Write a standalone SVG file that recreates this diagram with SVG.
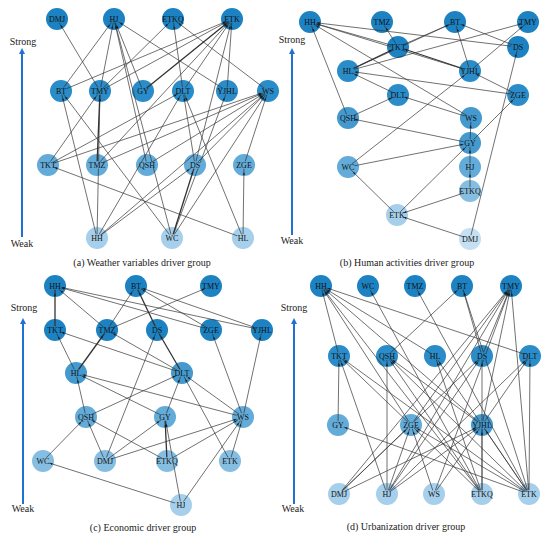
<svg xmlns="http://www.w3.org/2000/svg" width="550" height="542" viewBox="0 0 550 542">
<style>
.bg{fill:#fff}
.e{stroke:#333;stroke-width:0.7;fill:none;marker-end:url(#ah)}
.t{stroke-width:1.3}
.ax{stroke:#1f72d4;stroke-width:2;marker-end:url(#axh)}
.lab{font-family:"Liberation Serif","Times New Roman",serif;font-size:8px;fill:#111;text-anchor:middle}
.txt{font-family:"Liberation Serif","Times New Roman",serif;font-size:10px;fill:#222;text-anchor:middle}
.c1{fill:#1c82c2}.c2{fill:#2a8cc8}.c3{fill:#4499cf}.c4{fill:#63abd8}.c5{fill:#86bee2}.c6{fill:#a6cfeb}.c7{fill:#c4e0f2}
.m{fill:#000}
</style>
<defs>
<marker id="ah" markerUnits="userSpaceOnUse" markerWidth="4" markerHeight="4" refX="9.7" refY="1.1" orient="auto" overflow="visible"><path d="M0,0 L2.6,1.1 L0,2.2 z" fill="#1a1a1a"/></marker>
<marker id="axh" markerUnits="userSpaceOnUse" markerWidth="8" markerHeight="8" refX="1" refY="3" orient="auto" overflow="visible"><path d="M0,0 L6,3 L0,6 z" fill="#1f72d4"/></marker>
<mask id="lm" maskUnits="userSpaceOnUse" x="0" y="0" width="550" height="542">
<rect width="550" height="542" fill="#fff"/>
<g class="m">
<ellipse cx="57" cy="19" rx="7" ry="3.8"/><ellipse cx="114" cy="19" rx="7" ry="3.8"/><ellipse cx="173" cy="19" rx="7" ry="3.8"/><ellipse cx="232" cy="19" rx="7" ry="3.8"/>
<ellipse cx="61" cy="91" rx="7" ry="3.8"/><ellipse cx="100" cy="91" rx="7" ry="3.8"/><ellipse cx="143" cy="91" rx="7" ry="3.8"/><ellipse cx="183" cy="91" rx="7" ry="3.8"/><ellipse cx="227" cy="91" rx="7" ry="3.8"/><ellipse cx="268" cy="91" rx="7" ry="3.8"/>
<ellipse cx="48" cy="165" rx="7" ry="3.8"/><ellipse cx="97" cy="165" rx="7" ry="3.8"/><ellipse cx="147" cy="165" rx="7" ry="3.8"/><ellipse cx="195" cy="165" rx="7" ry="3.8"/><ellipse cx="244" cy="165" rx="7" ry="3.8"/>
<ellipse cx="97" cy="238" rx="7" ry="3.8"/><ellipse cx="172" cy="238" rx="7" ry="3.8"/><ellipse cx="243" cy="238" rx="7" ry="3.8"/>
<ellipse cx="310" cy="22" rx="7" ry="3.8"/><ellipse cx="382" cy="22" rx="7" ry="3.8"/><ellipse cx="455" cy="22" rx="7" ry="3.8"/><ellipse cx="528" cy="22" rx="7" ry="3.8"/>
<ellipse cx="398" cy="47" rx="7" ry="3.8"/><ellipse cx="518" cy="47" rx="7" ry="3.8"/><ellipse cx="348" cy="71" rx="7" ry="3.8"/><ellipse cx="470" cy="71" rx="7" ry="3.8"/>
<ellipse cx="398" cy="95" rx="7" ry="3.8"/><ellipse cx="518" cy="95" rx="7" ry="3.8"/><ellipse cx="348" cy="118" rx="7" ry="3.8"/><ellipse cx="471" cy="118" rx="7" ry="3.8"/>
<ellipse cx="470" cy="143" rx="7" ry="3.8"/><ellipse cx="348" cy="167" rx="7" ry="3.8"/><ellipse cx="470" cy="167" rx="7" ry="3.8"/><ellipse cx="470" cy="191" rx="7" ry="3.8"/><ellipse cx="397" cy="215" rx="7" ry="3.8"/><ellipse cx="470" cy="239" rx="7" ry="3.8"/>
<ellipse cx="55" cy="286" rx="7" ry="3.8"/><ellipse cx="136" cy="286" rx="7" ry="3.8"/><ellipse cx="211" cy="286" rx="7" ry="3.8"/>
<ellipse cx="55" cy="330" rx="7" ry="3.8"/><ellipse cx="107" cy="330" rx="7" ry="3.8"/><ellipse cx="157" cy="330" rx="7" ry="3.8"/><ellipse cx="211" cy="330" rx="7" ry="3.8"/><ellipse cx="262" cy="330" rx="7" ry="3.8"/>
<ellipse cx="76" cy="373" rx="7" ry="3.8"/><ellipse cx="182" cy="373" rx="7" ry="3.8"/><ellipse cx="86" cy="417" rx="7" ry="3.8"/><ellipse cx="165" cy="417" rx="7" ry="3.8"/><ellipse cx="243" cy="417" rx="7" ry="3.8"/>
<ellipse cx="43" cy="461" rx="7" ry="3.8"/><ellipse cx="105" cy="461" rx="7" ry="3.8"/><ellipse cx="167" cy="461" rx="7" ry="3.8"/><ellipse cx="230" cy="461" rx="7" ry="3.8"/><ellipse cx="181" cy="505" rx="7" ry="3.8"/>
<ellipse cx="321" cy="286" rx="7" ry="3.8"/><ellipse cx="368" cy="286" rx="7" ry="3.8"/><ellipse cx="415" cy="286" rx="7" ry="3.8"/><ellipse cx="462" cy="286" rx="7" ry="3.8"/><ellipse cx="511" cy="286" rx="7" ry="3.8"/>
<ellipse cx="339" cy="356" rx="7" ry="3.8"/><ellipse cx="387" cy="356" rx="7" ry="3.8"/><ellipse cx="435" cy="356" rx="7" ry="3.8"/><ellipse cx="482" cy="356" rx="7" ry="3.8"/><ellipse cx="530" cy="356" rx="7" ry="3.8"/>
<ellipse cx="338" cy="425" rx="7" ry="3.8"/><ellipse cx="411" cy="425" rx="7" ry="3.8"/><ellipse cx="482" cy="425" rx="7" ry="3.8"/>
<ellipse cx="339" cy="494" rx="7" ry="3.8"/><ellipse cx="387" cy="494" rx="7" ry="3.8"/><ellipse cx="434" cy="494" rx="7" ry="3.8"/><ellipse cx="482" cy="494" rx="7" ry="3.8"/><ellipse cx="529" cy="494" rx="7" ry="3.8"/>
</g>
</mask>
</defs>
<rect class="bg" width="550" height="542"/>

<g id="axes">
<line class="ax" x1="22" y1="237" x2="22" y2="53"/>
<text class="txt" x="23" y="45">Strong</text>
<text class="txt" x="22" y="247">Weak</text>
<line class="ax" x1="292" y1="235" x2="292" y2="53"/>
<text class="txt" x="292" y="43">Strong</text>
<text class="txt" x="292" y="244">Weak</text>
<line class="ax" x1="23" y1="504" x2="23" y2="323"/>
<text class="txt" x="24" y="311">Strong</text>
<text class="txt" x="23" y="512">Weak</text>
<line class="ax" x1="294" y1="504" x2="294" y2="323"/>
<text class="txt" x="294" y="311">Strong</text>
<text class="txt" x="293" y="512">Weak</text>
</g>

<g id="captions">
<text class="txt" x="142" y="266">(a) Weather variables driver group</text>
<text class="txt" x="407" y="266">(b) Human activities driver group</text>
<text class="txt" x="143" y="531">(c) Economic driver group</text>
<text class="txt" x="406" y="530">(d) Urbanization driver group</text>
</g>

<g id="nodes">
<g id="a-DMJ"><circle class="c1" cx="57" cy="19" r="11"/><text class="lab" x="57" y="22">DMJ</text></g>
<g id="a-HJ"><circle class="c1" cx="114" cy="19" r="11"/><text class="lab" x="114" y="22">HJ</text></g>
<g id="a-ETKQ"><circle class="c1" cx="173" cy="19" r="11"/><text class="lab" x="173" y="22">ETKQ</text></g>
<g id="a-ETK"><circle class="c1" cx="232" cy="19" r="11"/><text class="lab" x="232" y="22">ETK</text></g>
<g id="a-BT"><circle class="c2" cx="61" cy="91" r="11"/><text class="lab" x="61" y="94">BT</text></g>
<g id="a-TMY"><circle class="c2" cx="100" cy="91" r="11"/><text class="lab" x="100" y="94">TMY</text></g>
<g id="a-GY"><circle class="c2" cx="143" cy="91" r="11"/><text class="lab" x="143" y="94">GY</text></g>
<g id="a-DLT"><circle class="c2" cx="183" cy="91" r="11"/><text class="lab" x="183" y="94">DLT</text></g>
<g id="a-YJHL"><circle class="c2" cx="227" cy="91" r="11"/><text class="lab" x="227" y="94">YJHL</text></g>
<g id="a-WS"><circle class="c2" cx="268" cy="91" r="11"/><text class="lab" x="268" y="94">WS</text></g>
<g id="a-TKT"><circle class="c4" cx="48" cy="165" r="11"/><text class="lab" x="48" y="168">TKT</text></g>
<g id="a-TMZ"><circle class="c4" cx="97" cy="165" r="11"/><text class="lab" x="97" y="168">TMZ</text></g>
<g id="a-QSH"><circle class="c4" cx="147" cy="165" r="11"/><text class="lab" x="147" y="168">QSH</text></g>
<g id="a-DS"><circle class="c4" cx="195" cy="165" r="11"/><text class="lab" x="195" y="168">DS</text></g>
<g id="a-ZGE"><circle class="c4" cx="244" cy="165" r="11"/><text class="lab" x="244" y="168">ZGE</text></g>
<g id="a-HH"><circle class="c6" cx="97" cy="238" r="11"/><text class="lab" x="97" y="241">HH</text></g>
<g id="a-WC"><circle class="c6" cx="172" cy="238" r="11"/><text class="lab" x="172" y="241">WC</text></g>
<g id="a-HL"><circle class="c6" cx="243" cy="238" r="11"/><text class="lab" x="243" y="241">HL</text></g>

<g id="b-HH"><circle class="c1" cx="310" cy="22" r="11"/><text class="lab" x="310" y="25">HH</text></g>
<g id="b-TMZ"><circle class="c1" cx="382" cy="22" r="11"/><text class="lab" x="382" y="25">TMZ</text></g>
<g id="b-BT"><circle class="c1" cx="455" cy="22" r="11"/><text class="lab" x="455" y="25">BT</text></g>
<g id="b-TMY"><circle class="c1" cx="528" cy="22" r="11"/><text class="lab" x="528" y="25">TMY</text></g>
<g id="b-TKT"><circle class="c1" cx="398" cy="47" r="11"/><text class="lab" x="398" y="50">TKT</text></g>
<g id="b-DS"><circle class="c1" cx="518" cy="47" r="11"/><text class="lab" x="518" y="50">DS</text></g>
<g id="b-HL"><circle class="c2" cx="348" cy="71" r="11"/><text class="lab" x="348" y="74">HL</text></g>
<g id="b-YJHL"><circle class="c2" cx="470" cy="71" r="11"/><text class="lab" x="470" y="74">YJHL</text></g>
<g id="b-DLT"><circle class="c2" cx="398" cy="95" r="11"/><text class="lab" x="398" y="98">DLT</text></g>
<g id="b-ZGE"><circle class="c2" cx="518" cy="95" r="11"/><text class="lab" x="518" y="98">ZGE</text></g>
<g id="b-QSH"><circle class="c3" cx="348" cy="118" r="11"/><text class="lab" x="348" y="121">QSH</text></g>
<g id="b-WS"><circle class="c3" cx="471" cy="118" r="11"/><text class="lab" x="471" y="121">WS</text></g>
<g id="b-GY"><circle class="c3" cx="470" cy="143" r="11"/><text class="lab" x="470" y="146">GY</text></g>
<g id="b-WC"><circle class="c4" cx="348" cy="167" r="11"/><text class="lab" x="348" y="170">WC</text></g>
<g id="b-HJ"><circle class="c4" cx="470" cy="167" r="11"/><text class="lab" x="470" y="170">HJ</text></g>
<g id="b-ETKQ"><circle class="c5" cx="470" cy="191" r="11"/><text class="lab" x="470" y="194">ETKQ</text></g>
<g id="b-ETK"><circle class="c6" cx="397" cy="215" r="11"/><text class="lab" x="397" y="218">ETK</text></g>
<g id="b-DMJ"><circle class="c7" cx="470" cy="239" r="11"/><text class="lab" x="470" y="242">DMJ</text></g>

<g id="c-HH"><circle class="c1" cx="55" cy="286" r="11"/><text class="lab" x="55" y="289">HH</text></g>
<g id="c-BT"><circle class="c1" cx="136" cy="286" r="11"/><text class="lab" x="136" y="289">BT</text></g>
<g id="c-TMY"><circle class="c1" cx="211" cy="286" r="11"/><text class="lab" x="211" y="289">TMY</text></g>
<g id="c-TKT"><circle class="c1" cx="55" cy="330" r="11"/><text class="lab" x="55" y="333">TKT</text></g>
<g id="c-TMZ"><circle class="c1" cx="107" cy="330" r="11"/><text class="lab" x="107" y="333">TMZ</text></g>
<g id="c-DS"><circle class="c1" cx="157" cy="330" r="11"/><text class="lab" x="157" y="333">DS</text></g>
<g id="c-ZGE"><circle class="c1" cx="211" cy="330" r="11"/><text class="lab" x="211" y="333">ZGE</text></g>
<g id="c-YJHL"><circle class="c1" cx="262" cy="330" r="11"/><text class="lab" x="262" y="333">YJHL</text></g>
<g id="c-HL"><circle class="c3" cx="76" cy="373" r="11"/><text class="lab" x="76" y="376">HL</text></g>
<g id="c-DLT"><circle class="c3" cx="182" cy="373" r="11"/><text class="lab" x="182" y="376">DLT</text></g>
<g id="c-QSH"><circle class="c4" cx="86" cy="417" r="11"/><text class="lab" x="86" y="420">QSH</text></g>
<g id="c-GY"><circle class="c4" cx="165" cy="417" r="11"/><text class="lab" x="165" y="420">GY</text></g>
<g id="c-WS"><circle class="c4" cx="243" cy="417" r="11"/><text class="lab" x="243" y="420">WS</text></g>
<g id="c-WC"><circle class="c5" cx="43" cy="461" r="11"/><text class="lab" x="43" y="464">WC</text></g>
<g id="c-DMJ"><circle class="c5" cx="105" cy="461" r="11"/><text class="lab" x="105" y="464">DMJ</text></g>
<g id="c-ETKQ"><circle class="c5" cx="167" cy="461" r="11"/><text class="lab" x="167" y="464">ETKQ</text></g>
<g id="c-ETK"><circle class="c5" cx="230" cy="461" r="11"/><text class="lab" x="230" y="464">ETK</text></g>
<g id="c-HJ"><circle class="c6" cx="181" cy="505" r="11"/><text class="lab" x="181" y="508">HJ</text></g>

<g id="d-HH"><circle class="c1" cx="321" cy="286" r="11"/><text class="lab" x="321" y="289">HH</text></g>
<g id="d-WC"><circle class="c1" cx="368" cy="286" r="11"/><text class="lab" x="368" y="289">WC</text></g>
<g id="d-TMZ"><circle class="c1" cx="415" cy="286" r="11"/><text class="lab" x="415" y="289">TMZ</text></g>
<g id="d-BT"><circle class="c1" cx="462" cy="286" r="11"/><text class="lab" x="462" y="289">BT</text></g>
<g id="d-TMY"><circle class="c1" cx="511" cy="286" r="11"/><text class="lab" x="511" y="289">TMY</text></g>
<g id="d-TKT"><circle class="c2" cx="339" cy="356" r="11"/><text class="lab" x="339" y="359">TKT</text></g>
<g id="d-QSH"><circle class="c2" cx="387" cy="356" r="11"/><text class="lab" x="387" y="359">QSH</text></g>
<g id="d-HL"><circle class="c2" cx="435" cy="356" r="11"/><text class="lab" x="435" y="359">HL</text></g>
<g id="d-DS"><circle class="c2" cx="482" cy="356" r="11"/><text class="lab" x="482" y="359">DS</text></g>
<g id="d-DLT"><circle class="c2" cx="530" cy="356" r="11"/><text class="lab" x="530" y="359">DLT</text></g>
<g id="d-GY"><circle class="c4" cx="338" cy="425" r="11"/><text class="lab" x="338" y="428">GY</text></g>
<g id="d-ZGE"><circle class="c4" cx="411" cy="425" r="11"/><text class="lab" x="411" y="428">ZGE</text></g>
<g id="d-YJHL"><circle class="c3" cx="482" cy="425" r="11"/><text class="lab" x="482" y="428">YJHL</text></g>
<g id="d-DMJ"><circle class="c6" cx="339" cy="494" r="11"/><text class="lab" x="339" y="497">DMJ</text></g>
<g id="d-HJ"><circle class="c6" cx="387" cy="494" r="11"/><text class="lab" x="387" y="497">HJ</text></g>
<g id="d-WS"><circle class="c6" cx="434" cy="494" r="11"/><text class="lab" x="434" y="497">WS</text></g>
<g id="d-ETKQ"><circle class="c6" cx="482" cy="494" r="11"/><text class="lab" x="482" y="497">ETKQ</text></g>
<g id="d-ETK"><circle class="c6" cx="529" cy="494" r="11"/><text class="lab" x="529" y="497">ETK</text></g>
</g>

<g id="connectors" mask="url(#lm)">
<!-- (a) -->
<line class="e" x1="61" y1="91" x2="114" y2="19"/>
<line class="e" x1="61" y1="91" x2="232" y2="19"/>
<line class="e" x1="100" y1="91" x2="57" y2="19"/>
<line class="e" x1="100" y1="91" x2="114" y2="19"/>
<line class="e" x1="100" y1="91" x2="173" y2="19"/>
<line class="e" x1="100" y1="91" x2="232" y2="19"/>
<line class="e" x1="143" y1="91" x2="114" y2="19"/>
<line class="e t" x1="143" y1="91" x2="232" y2="19"/>
<line class="e" x1="183" y1="91" x2="173" y2="19"/>
<line class="e" x1="183" y1="91" x2="232" y2="19"/>
<line class="e" x1="227" y1="91" x2="114" y2="19"/>
<line class="e" x1="227" y1="91" x2="232" y2="19"/>
<line class="e" x1="268" y1="91" x2="173" y2="19"/>
<line class="e" x1="48" y1="165" x2="100" y2="91"/>
<line class="e" x1="48" y1="165" x2="183" y2="91"/>
<line class="e" x1="48" y1="165" x2="268" y2="91"/>
<line class="e t" x1="97" y1="165" x2="100" y2="91"/>
<line class="e" x1="97" y1="165" x2="232" y2="19"/>
<line class="e" x1="97" y1="165" x2="268" y2="91"/>
<line class="e" x1="147" y1="165" x2="114" y2="19"/>
<line class="e" x1="147" y1="165" x2="268" y2="91"/>
<line class="e" x1="195" y1="165" x2="232" y2="19"/>
<line class="e" x1="195" y1="165" x2="183" y2="91"/>
<line class="e" x1="195" y1="165" x2="268" y2="91"/>
<line class="e" x1="244" y1="165" x2="268" y2="91"/>
<line class="e" x1="97" y1="238" x2="100" y2="91"/>
<line class="e" x1="97" y1="238" x2="61" y2="91"/>
<line class="e" x1="97" y1="238" x2="183" y2="91"/>
<line class="e" x1="97" y1="238" x2="195" y2="165"/>
<line class="e" x1="97" y1="238" x2="268" y2="91"/>
<line class="e t" x1="172" y1="238" x2="195" y2="165"/>
<line class="e" x1="172" y1="238" x2="114" y2="19"/>
<line class="e" x1="172" y1="238" x2="61" y2="91"/>
<line class="e" x1="172" y1="238" x2="268" y2="91"/>
<line class="e" x1="172" y1="238" x2="227" y2="91"/>
<line class="e" x1="243" y1="238" x2="244" y2="165"/>
<line class="e" x1="243" y1="238" x2="48" y2="165"/>
<line class="e" x1="243" y1="238" x2="183" y2="91"/>
<!-- (b) -->
<line class="e" x1="398" y1="47" x2="310" y2="22"/>
<line class="e" x1="398" y1="47" x2="382" y2="22"/>
<line class="e" x1="398" y1="47" x2="455" y2="22"/>
<line class="e" x1="518" y1="47" x2="310" y2="22"/>
<line class="e" x1="518" y1="47" x2="455" y2="22"/>
<line class="e" x1="470" y1="71" x2="310" y2="22"/>
<line class="e" x1="470" y1="71" x2="455" y2="22"/>
<line class="e" x1="470" y1="71" x2="528" y2="22"/>
<line class="e t" x1="470" y1="71" x2="398" y2="47"/>
<line class="e" x1="348" y1="71" x2="455" y2="22"/>
<line class="e" x1="348" y1="71" x2="528" y2="22"/>
<line class="e t" x1="348" y1="71" x2="398" y2="47"/>
<line class="e" x1="518" y1="95" x2="348" y2="71"/>
<line class="e" x1="518" y1="95" x2="470" y2="71"/>
<line class="e" x1="398" y1="95" x2="348" y2="71"/>
<line class="e" x1="471" y1="118" x2="310" y2="22"/>
<line class="e" x1="471" y1="118" x2="398" y2="95"/>
<line class="e" x1="348" y1="118" x2="310" y2="22"/>
<line class="e" x1="348" y1="118" x2="398" y2="95"/>
<line class="e" x1="470" y1="143" x2="348" y2="118"/>
<line class="e" x1="470" y1="143" x2="471" y2="118"/>
<line class="e" x1="470" y1="143" x2="518" y2="95"/>
<line class="e" x1="348" y1="167" x2="470" y2="71"/>
<line class="e" x1="348" y1="167" x2="470" y2="143"/>
<line class="e" x1="470" y1="167" x2="470" y2="143"/>
<line class="e" x1="470" y1="191" x2="470" y2="167"/>
<line class="e" x1="397" y1="215" x2="470" y2="143"/>
<line class="e" x1="397" y1="215" x2="348" y2="167"/>
<line class="e" x1="470" y1="191" x2="397" y2="215"/>
<line class="e" x1="470" y1="239" x2="397" y2="215"/>
<line class="e" x1="470" y1="239" x2="518" y2="47"/>
<!-- (c) -->
<line class="e t" x1="55" y1="330" x2="55" y2="286"/>
<line class="e" x1="107" y1="330" x2="55" y2="286"/>
<line class="e" x1="211" y1="330" x2="55" y2="286"/>
<line class="e" x1="262" y1="330" x2="55" y2="286"/>
<line class="e" x1="107" y1="330" x2="136" y2="286"/>
<line class="e" x1="107" y1="330" x2="211" y2="286"/>
<line class="e t" x1="157" y1="330" x2="136" y2="286"/>
<line class="e" x1="211" y1="330" x2="136" y2="286"/>
<line class="e" x1="262" y1="330" x2="136" y2="286"/>
<line class="e" x1="76" y1="373" x2="55" y2="330"/>
<line class="e" x1="182" y1="373" x2="55" y2="330"/>
<line class="e t" x1="76" y1="373" x2="107" y2="330"/>
<line class="e" x1="182" y1="373" x2="107" y2="330"/>
<line class="e t" x1="182" y1="373" x2="157" y2="330"/>
<line class="e" x1="105" y1="461" x2="157" y2="330"/>
<line class="e" x1="86" y1="417" x2="76" y2="373"/>
<line class="e" x1="165" y1="417" x2="76" y2="373"/>
<line class="e" x1="243" y1="417" x2="76" y2="373"/>
<line class="e" x1="86" y1="417" x2="182" y2="373"/>
<line class="e" x1="165" y1="417" x2="182" y2="373"/>
<line class="e" x1="243" y1="417" x2="182" y2="373"/>
<line class="e" x1="230" y1="461" x2="182" y2="373"/>
<line class="e" x1="243" y1="417" x2="211" y2="330"/>
<line class="e" x1="243" y1="417" x2="262" y2="330"/>
<line class="e" x1="43" y1="461" x2="86" y2="417"/>
<line class="e" x1="105" y1="461" x2="86" y2="417"/>
<line class="e" x1="167" y1="461" x2="86" y2="417"/>
<line class="e" x1="105" y1="461" x2="165" y2="417"/>
<line class="e t" x1="167" y1="461" x2="165" y2="417"/>
<line class="e" x1="181" y1="505" x2="165" y2="417"/>
<line class="e" x1="105" y1="461" x2="243" y2="417"/>
<line class="e" x1="167" y1="461" x2="243" y2="417"/>
<line class="e" x1="230" y1="461" x2="243" y2="417"/>
<line class="e" x1="181" y1="505" x2="243" y2="417"/>
<line class="e" x1="181" y1="505" x2="43" y2="461"/>
<!-- (d) -->
<line class="e" x1="339" y1="356" x2="321" y2="286"/>
<line class="e" x1="435" y1="356" x2="321" y2="286"/>
<line class="e" x1="530" y1="356" x2="321" y2="286"/>
<line class="e" x1="411" y1="425" x2="321" y2="286"/>
<line class="e" x1="482" y1="425" x2="321" y2="286"/>
<line class="e" x1="482" y1="494" x2="321" y2="286"/>
<line class="e" x1="482" y1="494" x2="368" y2="286"/>
<line class="e" x1="529" y1="494" x2="415" y2="286"/>
<line class="e" x1="387" y1="356" x2="462" y2="286"/>
<line class="e" x1="482" y1="356" x2="462" y2="286"/>
<line class="e" x1="529" y1="494" x2="462" y2="286"/>
<line class="e" x1="482" y1="356" x2="511" y2="286"/>
<line class="e" x1="411" y1="425" x2="511" y2="286"/>
<line class="e" x1="339" y1="494" x2="511" y2="286"/>
<line class="e" x1="387" y1="494" x2="511" y2="286"/>
<line class="e" x1="434" y1="494" x2="511" y2="286"/>
<line class="e" x1="482" y1="425" x2="511" y2="286"/>
<line class="e" x1="529" y1="494" x2="511" y2="286"/>
<line class="e" x1="338" y1="425" x2="339" y2="356"/>
<line class="e" x1="387" y1="494" x2="339" y2="356"/>
<line class="e" x1="411" y1="425" x2="339" y2="356"/>
<line class="e" x1="529" y1="494" x2="339" y2="356"/>
<line class="e" x1="387" y1="494" x2="387" y2="356"/>
<line class="e" x1="482" y1="425" x2="387" y2="356"/>
<line class="e" x1="482" y1="494" x2="387" y2="356"/>
<line class="e" x1="529" y1="494" x2="387" y2="356"/>
<line class="e" x1="529" y1="494" x2="435" y2="356"/>
<line class="e" x1="482" y1="494" x2="435" y2="356"/>
<line class="e" x1="482" y1="494" x2="482" y2="356"/>
<line class="e" x1="339" y1="494" x2="482" y2="356"/>
<line class="e" x1="387" y1="494" x2="482" y2="356"/>
<line class="e" x1="482" y1="425" x2="530" y2="356"/>
<line class="e" x1="387" y1="494" x2="530" y2="356"/>
<line class="e" x1="529" y1="494" x2="530" y2="356"/>
<line class="e" x1="529" y1="494" x2="338" y2="425"/>
<line class="e" x1="339" y1="494" x2="411" y2="425"/>
<line class="e" x1="387" y1="494" x2="411" y2="425"/>
<line class="e" x1="434" y1="494" x2="411" y2="425"/>
<line class="e" x1="482" y1="494" x2="411" y2="425"/>
<line class="e" x1="529" y1="494" x2="411" y2="425"/>
<line class="e" x1="339" y1="494" x2="482" y2="425"/>
<line class="e" x1="387" y1="494" x2="482" y2="425"/>
<line class="e" x1="434" y1="494" x2="482" y2="425"/>
<line class="e" x1="482" y1="494" x2="482" y2="425"/>
<line class="e" x1="529" y1="494" x2="482" y2="425"/>
</g>
</svg>
